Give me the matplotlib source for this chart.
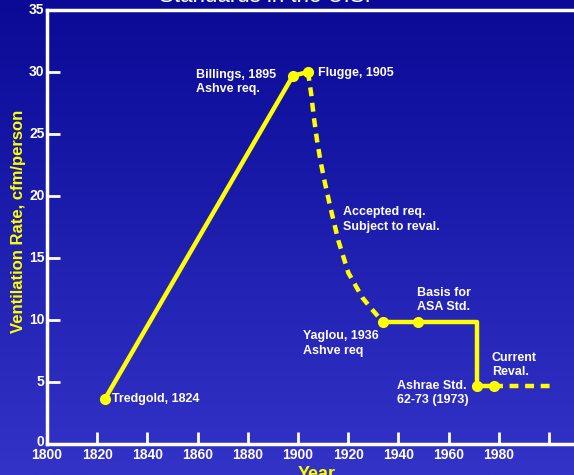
import numpy as np
import matplotlib
matplotlib.use("Agg")
import matplotlib.pyplot as plt

# solid rise: Tredgold -> Billings -> Flugge
rise_years = [1823, 1898, 1904]
rise_vals = [3.6, 29.7, 30.0]

# dashed decline: Flugge -> Yaglou
decline_years = [1904, 1905.3, 1906.3, 1907.6, 1909.0, 1910.7, 1912.9,
                 1916.1, 1920.1, 1925.7, 1928.9, 1934]
decline_vals = [30.0, 28.2, 26.4, 24.5, 22.8, 21.1, 19.1,
                16.4, 13.8, 11.8, 11.0, 9.8]

# solid step: Yaglou -> ASA -> Ashrae 62-73 -> current
step_years = [1934, 1948, 1971.5, 1971.5, 1978]
step_vals = [9.8, 9.8, 9.8, 4.7, 4.7]

# dashed tail: current revision
tail_years = [1978, 2001]
tail_vals = [4.7, 4.7]

marker_years = [1823, 1898, 1904, 1934, 1948, 1971.5, 1978]
marker_vals = [3.6, 29.7, 30.0, 9.8, 9.8, 4.7, 4.7]

x_ticks = list(range(1820, 2001, 20))
x_labels = [str(y) for y in range(1800, 1981, 20)]
y_ticks = list(range(5, 31, 5))
y_labels = [str(v) for v in range(0, 36, 5)]

YELLOW = "#ffff00"
FONT = "Liberation Sans"

W, H = 574, 475
fig = plt.figure(figsize=(W / 100, H / 100), dpi=100)

# blue gradient background
bg = fig.add_axes([0, 0, 1, 1])
grad = np.linspace(0, 1, 256).reshape(-1, 1)
top = np.array([10, 10, 150]) / 255
bot = np.array([51, 51, 200]) / 255
img = top + (bot - top) * grad[:, :, None]
bg.imshow(img, aspect="auto", extent=[0, 1, 0, 1])
bg.set_axis_off()

left, right, bottom, topy = 47, 574, 444, 10
ax = fig.add_axes([left / W, 1 - bottom / H, (right - left) / W, (bottom - topy) / H])
ax.patch.set_alpha(0)
ax.set_xlim(1800, 2010)
ax.set_ylim(0, 35)

ax.plot(rise_years, rise_vals, color=YELLOW, lw=3.2, solid_capstyle="round")
ax.plot(decline_years, decline_vals, color=YELLOW, lw=3.2, dashes=(2, 1.5))
ax.plot(step_years, step_vals, color=YELLOW, lw=3.2)
ax.plot(tail_years, tail_vals, color=YELLOW, lw=3.2, dashes=(2, 1.5))
ax.plot(marker_years, marker_vals, "o", color=YELLOW, ms=7, ls="none")

for side in ["top", "left", "bottom"]:
    ax.spines[side].set_color("white")
    ax.spines[side].set_linewidth(2.5)
ax.spines["right"].set_visible(False)

ax.set_xticks(x_ticks)
ax.set_xticklabels([])
ax.set_yticks(y_ticks)
ax.set_yticklabels([])
ax.tick_params(direction="in", length=9, width=2, color="white")

# axis-end labels sit at the spines, like the original
for yr, lab in zip(range(1800, 1981, 20), x_labels):
    ax.text(yr, -0.3, lab, color="white", fontsize=10, fontweight="bold",
            family=FONT, ha="center", va="top", clip_on=False)
for v, lab in zip(range(0, 36, 5), y_labels):
    ax.text(1799, v + (0.2 if v == 0 else 0), lab, color="white", fontsize=10,
            fontweight="bold", family=FONT, ha="right", va="center", clip_on=False)

note = dict(color="white", fontsize=9, fontweight="bold", family=FONT,
            va="center", ha="left", linespacing=1.25)
ax.text(1825.9, 3.6, "Tredgold, 1824", **note)
ax.text(1859.4, 29.2, "Billings, 1895\nAshve req.", **note)
ax.text(1908, 29.9, "Flugge, 1905", **note)
ax.text(1917.9, 18.1, "Accepted req.\nSubject to reval.", **note)
ax.text(1947.4, 11.6, "Basis for\nASA Std.", **note)
ax.text(1902, 8.1, "Yaglou, 1936\nAshve req", **note)
ax.text(1977.3, 6.4, "Current\nReval.", **note)
ax.text(1939.4, 4.1, "Ashrae Std.\n62-73 (1973)", **note)

fig.text(265 / W, 1 - 2 / H, "Standards in the U.S.", color="white",
         fontsize=16, family=FONT, ha="center", va="baseline")
fig.text(317 / W, 1 - 466 / H, "Year", color=YELLOW, fontsize=13,
         fontweight="bold", family=FONT, ha="center", va="top")
fig.text(19 / W, 1 - 221 / H, "Ventilation Rate, cfm/person", color=YELLOW,
         fontsize=12, fontweight="bold", family=FONT, ha="center",
         va="center", rotation=90)

fig.savefig("out.png", dpi=100)
